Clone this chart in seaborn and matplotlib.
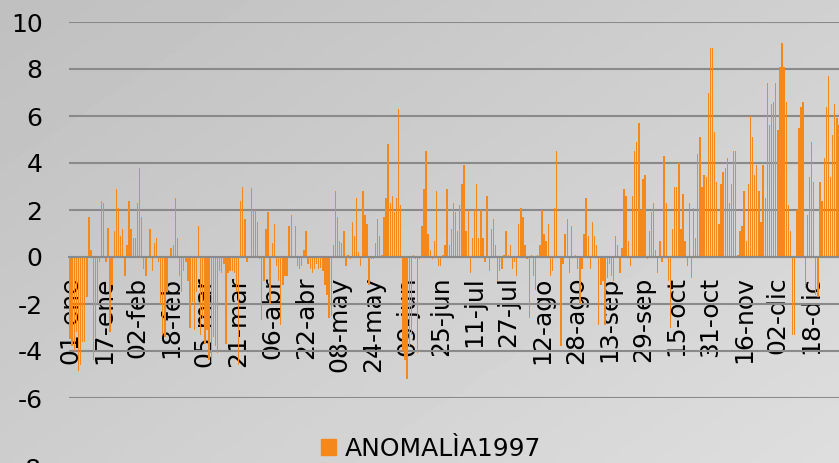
import numpy as np
import pandas as pd
import matplotlib.pyplot as plt
import seaborn as sns
from matplotlib.patches import Patch
from matplotlib.transforms import blended_transform_factory

# -----------------------------
# Daily anomaly values, one list per month
# -----------------------------
ene = [-3.5, -3.8, -4.0, -3.2, -4.85, -4.6, -3.6, -3.6, -1.7, 1.7, 0.3, -4.4, -3.5, -2.0, -0.2, 2.4,
       2.3, -0.2, 1.25, -3.2, -1.2, 1.1, 2.9, 2.1, 0.9, 1.2, -0.8, 0.5, 2.4, 1.2, 0.8]
feb = [0.8, 2.3, 3.8, 1.7, -0.5, -0.8, 0.0, 1.2, -0.6, 0.6, 0.8, -0.2, -2.0, -3.3, -3.4, -1.5,
       0.0, 0.4, 0.5, 2.5, 0.8, -0.8, -1.5, -0.6, -0.2, -1.0, -3.0, -1.9, -3.1]
mar = [-1.5, 1.3, -3.3, -2.6, -3.7, -3.1, -4.4, -4.5, -3.4, -3.8, -4.1, -0.6, -0.7, -0.3, -3.7, -0.7,
       -0.6, -0.6, -0.7, -1.5, -4.6, 2.4, 3.0, 1.6, -0.2, 0.0, 2.95, 2.0, 2.0, 1.5, -0.1]
abr = [-2.7, -1.0, 1.2, 1.9, -2.0, 0.6, 1.4, -0.4, -1.0, -2.9, -1.2, -0.8, -0.8, 1.3, 1.8, 0.0,
       1.3, -0.4, -0.5, -0.4, 0.3, 1.1, -0.3, -0.5, -0.7, -0.5, -0.3, -0.5, -0.45, -0.6]
may = [-1.2, -1.6, -2.6, -2.5, 0.5, 2.8, 1.7, 0.7, 0.6, 1.1, -0.4, 0.1, -0.1, 1.5, 0.9, 2.5,
       0.2, -0.4, 2.8, 1.8, 1.4, -1.2, -0.1, -0.1, 0.6, 1.6, 0.9, 0.1, 1.7, 2.5, 4.8]
jun = [2.3, 2.6, 1.9, 2.5, 6.3, 2.2, -4.0, -4.4, -5.2, -3.8, -3.3, 0.1, -0.1, -4.1, -0.1, 1.3,
       2.9, 4.5, 1.0, 0.3, -0.1, 0.7, 2.8, -0.4, -0.4, 0.1, 0.5, 2.9, 0.5, 1.2]
jul = [2.3, 1.9, 1.1, 2.2, 3.1, 3.9, 1.1, 2.0, -0.7, 0.8, 2.0, 3.1, 0.8, 2.0, 0.8, -0.2,
       2.6, -0.6, 1.2, 1.6, 0.5, -1.0, -0.6, -0.5, 0.1, 1.1, 0.1, 0.5, -0.5, -0.2, -0.8]
ago = [1.4, 2.1, 1.7, 0.5, -0.1, -2.6, 0.1, -0.8, -1.4, 0.1, 0.5, 2.0, 1.0, 0.7, 1.4, -0.8,
       -0.6, 2.1, 4.5, 0.0, -3.8, -0.3, 1.0, 1.6, -0.7, 1.3, 0.0, 0.1, -0.5, -2.0, -0.5]
sep = [1.0, 2.5, 0.9, -0.5, 1.5, 0.9, 0.5, -2.9, -1.2, -1.0, -2.9, -0.9, -0.3, -0.8, -1.0, 0.9,
       0.5, -0.7, 0.4, 2.9, 2.6, 0.7, -0.4, 2.6, 4.5, 4.9, 5.7, 2.0, 3.3, 3.5]
oct_ = [-0.1, 1.1, 1.9, 2.3, 0.3, -0.7, 0.7, -0.2, 4.3, 2.3, -1.0, -3.0, 1.2, 3.0, 3.0, 4.0,
        1.2, 2.7, 0.7, -0.4, 2.3, -0.9, 2.1, 0.8, 4.4, 5.1, 3.0, 3.5, 3.4, 7.0, 8.9]
nov = [8.9, 5.3, 3.2, 1.4, 3.1, 3.6, 3.8, 4.2, 2.3, 3.1, 4.5, 4.5, 0.1, 1.1, 1.3, 2.8,
       0.7, 3.1, 6.0, 5.1, 3.5, 3.9, 2.8, 1.5, 3.9, 2.5, 7.4, 5.6, 6.5, 6.6]
dic = [7.4, 5.4, 8.1, 9.1, 8.1, 6.6, 2.2, 1.1, -3.3, -3.3, 2.0, 5.5, 6.4, 6.6, -1.3, 1.8,
       3.4, 4.9, 3.2, -1.6, -1.7, 3.2, 2.4, 4.2, 6.4, 7.7, 3.4, 5.2, 6.5, 5.9, 5.6]

tick_labels = ["01-ene", "17-ene", "02-feb", "18-feb", "05-mar", "21-mar", "06-abr", "22-abr",
               "08-may", "24-may", "09-jun", "25-jun", "11-jul", "27-jul", "12-ago", "28-ago",
               "13-sep", "29-sep", "15-oct", "31-oct", "16-nov", "02-dic", "18-dic"]
y_ticks = [-6, -4, -2, 0, 2, 4, 6, 8, 10]
series_name = "ANOMALÌA1997"

values = ene + feb + mar + abr + may + jun + jul + ago + sep + oct_ + nov + dic
df = pd.DataFrame({"dia": np.arange(len(values)), "anomalia": values})

bar_color = "#F4881A"
grid_color = "#8a8a8a"

plt.rcParams["font.family"] = ["DejaVu Sans"]
plt.rcParams["axes.unicode_minus"] = False

# -----------------------------
# Figure with grey gradient background
# -----------------------------
fig = plt.figure(figsize=(8.39, 4.63), dpi=100)

bg = fig.add_axes([0, 0, 1, 1], zorder=-10)
gx, gy = np.meshgrid(np.linspace(0, 1, 200), np.linspace(0, 1, 120))
grad = 0.75 + 0.12 * (0.55 * gx + 0.45 * gy)
bg.imshow(grad, cmap="gray", vmin=0, vmax=1, aspect="auto", extent=[0, 1, 0, 1])
bg.axis("off")

ax = fig.add_axes([69 / 839, 65 / 463, 771 / 839, 376 / 463])
ax.patch.set_alpha(0)

sns.barplot(
    data=df,
    x="dia",
    y="anomalia",
    native_scale=True,
    color=bar_color,
    saturation=1,
    width=0.65,
    linewidth=0,
    ax=ax
)

ax.set_xlim(-0.5, len(values) - 0.5)
ax.set_ylim(-6, 10)
ax.set_yticks(y_ticks)
ax.set_xticks(np.arange(len(tick_labels)) * 16)
ax.set_xticklabels(tick_labels)
ax.set_xlabel("")
ax.set_ylabel("")

ax.yaxis.grid(True, color=grid_color, linewidth=1.5)
ax.xaxis.grid(False)
ax.set_axisbelow(True)

for side in ["left", "right", "top"]:
    ax.spines[side].set_visible(False)
ax.spines["bottom"].set_position(("data", 0))
ax.spines["bottom"].set_color(grid_color)
ax.spines["bottom"].set_linewidth(1.5)
ax.spines["bottom"].set_zorder(3)

ax.tick_params(axis="x", length=0, pad=14, labelsize=18, colors="black", labelrotation=90)
ax.tick_params(axis="y", length=0, pad=19, labelsize=18, colors="black")
for lbl in ax.get_xticklabels():
    lbl.set_rotation(90)
    lbl.set_horizontalalignment("center")
    lbl.set_verticalalignment("top")

# the next axis label, cut off by the bottom edge
trans = blended_transform_factory(ax.transAxes, ax.transData)
ax.text(-27 / 771, -9.06, "-8", transform=trans, ha="right", va="center",
        fontsize=18, clip_on=False)

fig.legend(
    handles=[Patch(color=bar_color, label=series_name)],
    loc="center",
    bbox_to_anchor=(431 / 839, 14 / 463),
    frameon=False,
    fontsize=18,
    handlelength=0.6,
    handleheight=0.6,
    handletextpad=0.35,
    borderpad=0
)

plt.savefig("out.png", dpi=100)
plt.close()
